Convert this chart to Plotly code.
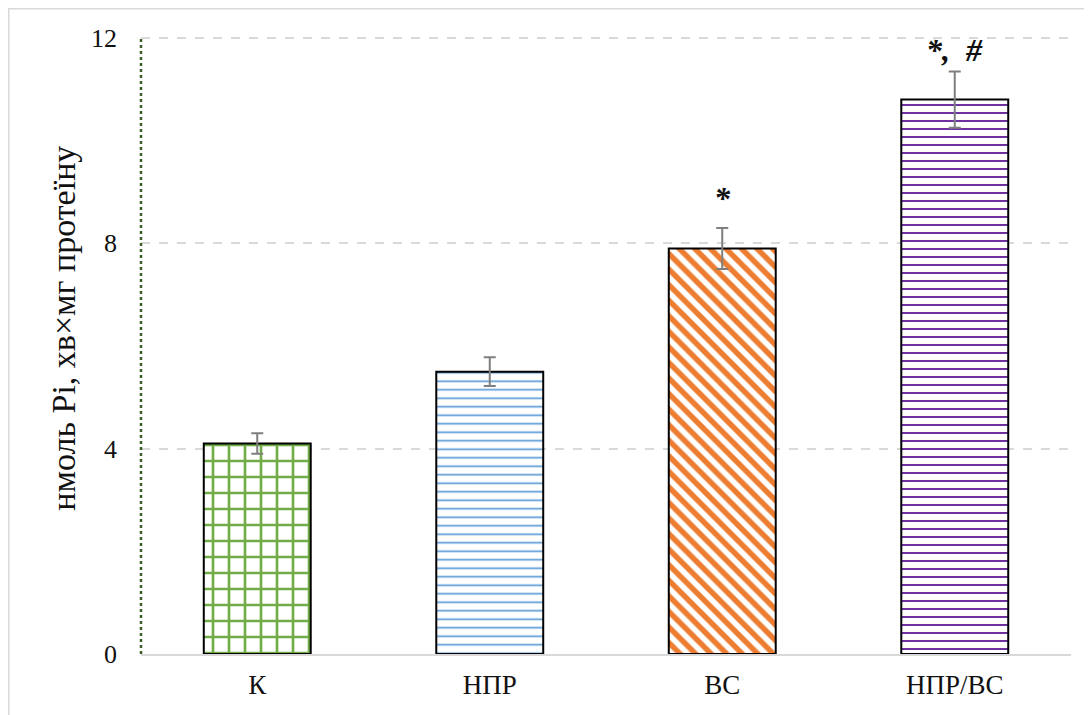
import plotly.graph_objects as go

categories = ["К", "НПР", "ВС", "НПР/ВС"]
values = [4.1, 5.5, 7.9, 10.8]
errors = [0.2, 0.28, 0.4, 0.55]
marks = ["", "", "*", "*,\u00a0\u00a0#"]
mark_shift = [0, 0, 10, 1]
y_ticks = [0, 4, 8, 12]

pattern_shapes = ["+", "-", "\\", "-"]
pattern_colors = ["#70ad47", "#5b9bd5", "#ed7d31", "#7030a0"]
pattern_sizes = [16, 8.5, 11, 8]
pattern_solid = [0.3, 0.2, 0.5, 0.25]

W, H = 1092, 715
# page is offset by the 8px body margin
ml, mr, mt, mb = 133, 29, 29, 68.5

fig = go.Figure()
fig.add_trace(go.Bar(
    x=categories, y=values, width=0.46,
    marker=dict(
        color="white",
        line=dict(color="black", width=2),
        pattern=dict(shape=pattern_shapes, fgcolor=pattern_colors, bgcolor="white",
                     size=pattern_sizes, solidity=pattern_solid, fillmode="replace"),
    ),
    error_y=dict(type="data", array=errors, visible=True, color="#7f7f7f", thickness=2, width=6),
    showlegend=False,
))

serif = "Liberation Serif, Times New Roman, serif"

for c, v, e, m, s in zip(categories, values, errors, marks, mark_shift):
    if m:
        fig.add_annotation(x=c, y=v + e, text="<b><i>" + m + "</i></b>", showarrow=False,
                           yanchor="bottom", yshift=s,
                           font=dict(family=serif, size=32, color="#111"),
                           xref="x", yref="y")

pw = W - ml - mr
ph = H - mt - mb
# y-axis title as annotation
fig.add_annotation(text="нмоль Pi, хв×мг протеїну", textangle=-90, showarrow=False,
                   xref="paper", yref="paper",
                   x=(56 - ml) / pw, y=(H - mb - 321) / ph,
                   xanchor="center", yanchor="middle",
                   font=dict(family=serif, size=34, color="#111"))

# outer frame
fig.add_shape(type="rect", xref="paper", yref="paper",
              x0=(0.5 - ml) / pw, x1=(W + 20 - ml) / pw,
              y0=(H - mb - (H + 20)) / ph, y1=(H - mb - 0.5) / ph,
              line=dict(color="#d9d9d9", width=2), fillcolor="rgba(0,0,0,0)", layer="below")
# dotted y axis line
fig.add_shape(type="line", xref="paper", yref="paper", x0=0, x1=0, y0=0, y1=1,
              line=dict(color="#3a5f2a", width=2.5, dash="dot"), layer="above")

fig.update_layout(
    width=W, height=H,
    margin=dict(l=ml, r=mr, t=mt, b=mb, autoexpand=False),
    paper_bgcolor="white", plot_bgcolor="white",
    font=dict(family=serif, color="#111"),
    bargap=0.54,
)
fig.update_xaxes(showline=True, linecolor="#d9d9d9", linewidth=2, showgrid=False,
                 ticks="", tickfont=dict(family=serif, size=27, color="#111"),
                 ticklabelstandoff=6, automargin=False)
fig.update_yaxes(range=[0, 12.02], tickvals=y_ticks, showgrid=True, gridcolor="#d9d9d9",
                 griddash="dash", gridwidth=1.5, zeroline=False, showline=False,
                 ticks="", tickfont=dict(family=serif, size=26, color="#111"),
                 ticklabelstandoff=23, automargin=False)

fig.write_html("out.html")
